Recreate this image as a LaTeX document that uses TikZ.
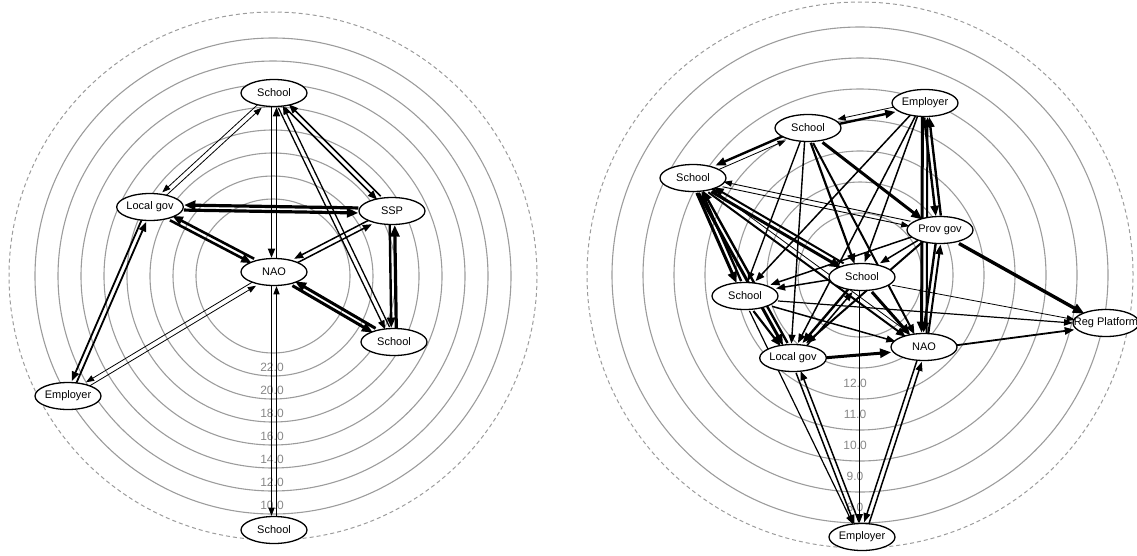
\documentclass[tikz,border=0pt]{standalone}
\usepackage{fontspec}
\setmainfont{Liberation Sans}
\usetikzlibrary{arrows.meta,shapes.geometric,backgrounds}
\definecolor{ringc}{HTML}{9C9C9C}
\definecolor{numc}{HTML}{888888}
\tikzset{
  >={Triangle[length=7pt 1.4,width=5pt 1.3]},
  actor/.style={ellipse,draw=black,line width=1.3pt,fill=white,minimum width=66pt,minimum height=27pt,inner sep=0pt,font=\fontsize{11}{12}\selectfont},
  ring/.style={draw=ringc,line width=1.1pt},
  rim/.style={draw=ringc,line width=1pt,dash pattern=on 4pt off 3pt},
  lvl/.style={text=numc,font=\fontsize{12}{13}\selectfont,inner sep=0pt},
  tie/.style={->,draw=black,line width=1pt},
}
\newcommand{\tiex}[3][]{%
  \pgfmathanglebetweenpoints{\pgfpointanchor{#2}{center}}{\pgfpointanchor{#3}{center}}%
  \edef\tieang{\pgfmathresult}%
  \draw[tie,#1,transform canvas={shift={(\tieang-90:2.5pt)}}] (#2) -- (#3);}

\begin{document}
\begin{tikzpicture}[x=1pt,y=-1pt]
  \useasboundingbox (0,0) rectangle (1137,555);
  \node[actor] (lST) at (274,93) {School};
  \node[actor] (lLG) at (150,207) {Local gov};
  \node[actor] (lSSP) at (392,211) {SSP};
  \node[actor] (lNAO) at (274,272) {NAO};
  \node[actor] (lSR) at (394,342) {School};
  \node[actor] (lEMP) at (68,396) {Employer};
  \node[actor] (lSB) at (274,530) {School};
  \node[actor] (rE1) at (925,103) {Employer};
  \node[actor] (rS1) at (808,128) {School};
  \node[actor] (rS2) at (693,178) {School};
  \node[actor] (rPG) at (940,230) {Prov gov};
  \node[actor] (rS3) at (862,277) {School};
  \node[actor] (rS4) at (745,296) {School};
  \node[actor] (rRP) at (1106,323) {\makebox[0pt]{Reg Platform}};
  \node[actor] (rN) at (924,347) {NAO};
  \node[actor] (rLG) at (793,358) {Local gov};
  \node[actor] (rE2) at (862,537) {Employer};
  \begin{scope}[on background layer]
    \draw[rim] (273,276) circle[radius=264pt];
    \draw[rim] (860,275) circle[radius=273pt];
    \foreach \r in {238,215,...,77} \draw[ring] (273,276) circle[radius=\r pt];
    \foreach \r in {248,217,...,62} \draw[ring] (860,275) circle[radius=\r pt];
    \foreach \v [count=\k from 0] in {10,12,...,22} \node[lvl] (lv\k) at (272,{505-23*\k}) {\v.0};
    \foreach \v [count=\k from 0] in {8,...,12} \node[lvl] (rv\k) at (855,{507-31*\k}) {\v.0};
    \foreach \a/\b/\w in {lST/lLG/0.8pt, lLG/lST/0.8pt, lST/lNAO/1.6pt, lNAO/lST/1.6pt,
        lST/lSSP/1.7pt, lSSP/lST/1.7pt, lST/lSR/1.3pt, lSR/lST/1.3pt,
        lLG/lSSP/3.2pt, lSSP/lLG/3.2pt, lLG/lNAO/2.6pt, lNAO/lLG/2.6pt,
        lLG/lEMP/1.8pt, lEMP/lLG/1.8pt, lSSP/lNAO/1.5pt, lNAO/lSSP/1.5pt,
        lSSP/lSR/2.4pt, lSR/lSSP/3.2pt, lNAO/lSR/3pt, lSR/lNAO/3pt,
        lNAO/lEMP/0.8pt, lEMP/lNAO/0.8pt, lNAO/lSB/0.9pt, lSB/lNAO/0.9pt}
      \tiex[line width=\w]{\a}{\b};
    \foreach \a/\b/\w in {rS1/rE1/2.4pt, rE1/rS1/0.8pt, rS1/rS2/2.4pt, rS2/rS1/0.8pt,
        rS1/rPG/3pt, rS1/rN/2pt, rS1/rS3/2.2pt, rS1/rLG/1.4pt, rS1/rS4/1.4pt,
        rE1/rPG/2.4pt, rPG/rE1/2.4pt, rE1/rN/3pt, rN/rE1/2pt,
        rE1/rS3/1.5pt, rE1/rS4/1.5pt, rE1/rLG/1.5pt,
        rS2/rPG/0.9pt, rPG/rS2/0.9pt, rS2/rS3/3pt, rS3/rS2/2pt,
        rS2/rS4/3pt, rS4/rS2/2.4pt, rS2/rLG/3pt, rLG/rS2/2.4pt,
        rS2/rN/2pt, rN/rS2/0.8pt, rPG/rN/2.4pt, rN/rPG/2pt,
        rPG/rS3/1.5pt, rPG/rS4/1.5pt, rPG/rLG/2pt, rPG/rRP/3.4pt,
        rS3/rLG/2.4pt, rLG/rS3/1.5pt, rS3/rN/3pt, rS3/rE2/1.2pt,
        rS3/rRP/0.8pt, rS3/rS4/1.5pt, rS4/rLG/2.2pt, rS4/rN/1.5pt,
        rS4/rRP/1.2pt, rS4/rE2/1.2pt, rLG/rN/3pt,
        rLG/rE2/1.5pt, rE2/rLG/1.5pt, rN/rE2/1.5pt, rE2/rN/1.5pt, rN/rRP/1.8pt}
      \tiex[line width=\w]{\a}{\b};
  \end{scope}
\end{tikzpicture}
\end{document}
